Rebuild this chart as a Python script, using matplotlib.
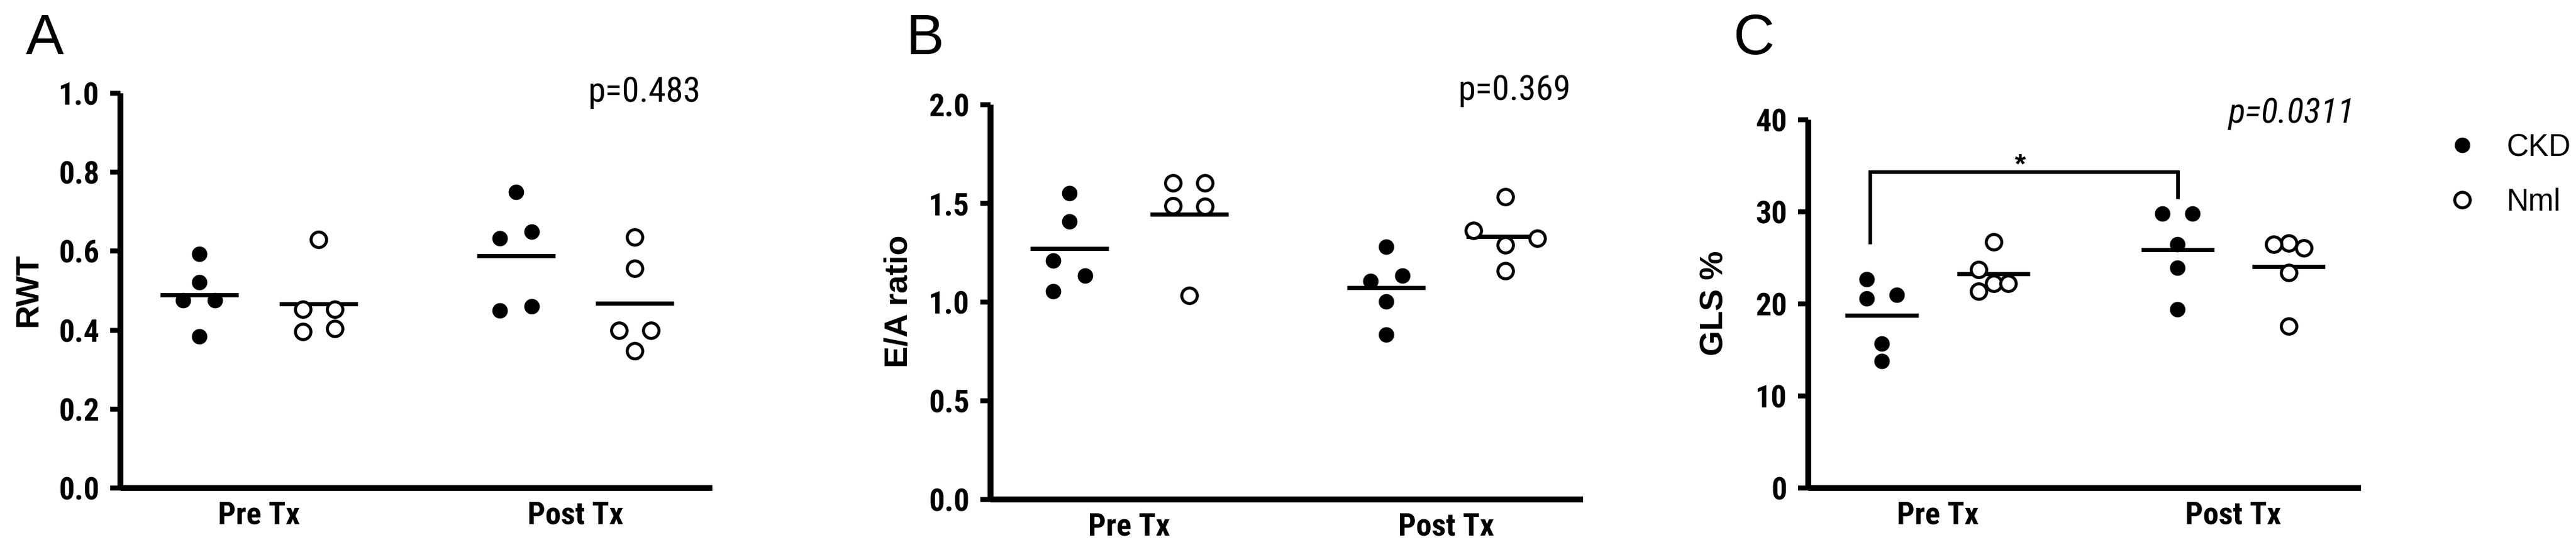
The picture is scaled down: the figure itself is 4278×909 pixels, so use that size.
import matplotlib
matplotlib.use("Agg")
import matplotlib.pyplot as plt
from matplotlib import font_manager
from matplotlib.lines import Line2D
import numpy as np

# values
groups = ["Pre Tx", "Post Tx"]

rwt_pre_ckd = [0.593, 0.521, 0.475, 0.475, 0.384]
rwt_pre_nml = [0.630, 0.452, 0.452, 0.397, 0.404]
rwt_post_ckd = [0.750, 0.650, 0.633, 0.461, 0.450]
rwt_post_nml = [0.636, 0.556, 0.400, 0.400, 0.348]

ea_pre_ckd = [1.551, 1.410, 1.211, 1.135, 1.055]
ea_pre_nml = [1.605, 1.605, 1.489, 1.486, 1.034]
ea_post_ckd = [1.282, 1.135, 1.108, 1.004, 0.835]
ea_post_nml = [1.534, 1.362, 1.323, 1.291, 1.158]

gls_pre_ckd = [22.7, 21.0, 20.6, 15.7, 13.8]
gls_pre_nml = [26.7, 23.7, 22.2, 22.2, 21.4]
gls_post_ckd = [29.8, 29.8, 26.5, 23.9, 19.4]
gls_post_nml = [26.6, 26.5, 26.1, 23.4, 17.6]

p_values = ["p=0.483", "p=0.369", "p=0.0311"]
y_labels = ["RWT", "E/A ratio", "GLS %"]
panel_letters = ["A", "B", "C"]

# side-by-side slots for tied points (column scatter layout)
slots_a = [[0, 0, -1, 1, 0], [0, -1, 1, -1, 1], [0, 1, -1, 1, -1], [0, 0, -1, 1, 0]]
slots_b = [[0, 0, -1, 1, -1], [-1, 1, -1, 1, 0], [0, 1, -1, 0, 0], [0, -2, 2, 0, 0]]
slots_c = [[-1, 1, -1, 0, 0], [0, -1, 0, 1, -1], [-1, 1, 0, 0, 0], [0, -1, 1, 0, 0]]

names = {f.name for f in font_manager.fontManager.ttflist}
narrow = "Roboto Condensed" if "Roboto Condensed" in names else "Liberation Sans"
plt.rcParams["font.family"] = [narrow, "DejaVu Sans"]

FS = 37.5
LW = 7
col_x = [0.133, 0.335, 0.668, 0.869]
slot_w = 0.027
half_w = 0.066

fig = plt.figure(figsize=(42.78, 9.09), dpi=100)
rects = [
    [0.04675, 0.10781, 0.22978, 0.72167],
    [0.38453, 0.08691, 0.23001, 0.72167],
    [0.70196, 0.10781, 0.21459, 0.67327],
]

filled = dict(ls="none", marker="o", ms=17.5, mfc="black", mec="black", mew=1)
hollow = dict(ls="none", marker="o", ms=18.5, mfc="white", mec="black", mew=3.6)


def draw_panel(ax, data, slots, ylim, yticks, fmt):
    for i, (vals, sl) in enumerate(zip(data, slots)):
        xs = col_x[i] + np.array(sl) * slot_w
        style = filled if i % 2 == 0 else hollow
        ax.plot(xs, vals, clip_on=False, **style)
        m = np.mean(vals)
        ax.plot([col_x[i] - half_w, col_x[i] + half_w], [m, m], color="black", lw=5,
                solid_capstyle="butt", zorder=1)
    ax.set_xlim(0, 1)
    ax.set_ylim(*ylim)
    ax.set_yticks(yticks)
    ax.set_yticklabels([fmt.format(t) for t in yticks], fontsize=FS, fontweight="bold")
    ax.set_xticks([(col_x[0] + col_x[1]) / 2, (col_x[2] + col_x[3]) / 2])
    ax.set_xticklabels(groups, fontsize=FS, fontweight="bold")
    for s in ["top", "right"]:
        ax.spines[s].set_visible(False)
    for s in ["left", "bottom"]:
        ax.spines[s].set_linewidth(LW)
        ax.spines[s].set_capstyle("butt")
    ax.tick_params(axis="y", length=12, width=6, pad=13)
    ax.tick_params(axis="x", length=0, pad=15)


axes = [fig.add_axes(r) for r in rects]
draw_panel(axes[0], [rwt_pre_ckd, rwt_pre_nml, rwt_post_ckd, rwt_post_nml], slots_a,
           (0, 1.0), np.arange(0, 1.01, 0.2), "{:.1f}")
draw_panel(axes[1], [ea_pre_ckd, ea_pre_nml, ea_post_ckd, ea_post_nml], slots_b,
           (0, 2.0), np.arange(0, 2.01, 0.5), "{:.1f}")
draw_panel(axes[2], [gls_pre_ckd, gls_pre_nml, gls_post_ckd, gls_post_nml], slots_c,
           (0, 40), np.arange(0, 41, 10), "{:.0f}")

label_x = [-0.155, -0.155, -0.169]
for ax, lab, lx in zip(axes, y_labels, label_x):
    ax.set_ylabel(lab, fontsize=39, fontweight="bold", family=["Liberation Sans", "DejaVu Sans"])
    ax.yaxis.label.set_va("center")
    ax.yaxis.set_label_coords(lx, 0.502)

p_pos = [(0.980, 0.979), (0.979, 1.012), (0.988, 0.992)]
for ax, p, (px, py), style in zip(axes, p_values, p_pos, ["normal", "normal", "italic"]):
    ax.text(px, py, p, transform=ax.transAxes, ha="right", va="baseline",
            fontsize=42, fontstyle=style)

letter_x = [43, 1504, 2878]
for lx, letter in zip(letter_x, panel_letters):
    fig.text(lx / 4278, 1 - 90 / 909, letter, fontsize=68, family="Liberation Sans",
             ha="left", va="baseline")

# significance bracket in panel C
axc = axes[2]
axc.plot([0.112, 0.112, 0.669, 0.669], [26.5, 34.3, 34.3, 31.4], color="black", lw=4.3,
         solid_joinstyle="miter", solid_capstyle="butt", clip_on=False)
axc.text(0.383, 34.2, "*", ha="center", va="baseline", fontsize=34, fontweight="bold",
         family=["Liberation Sans", "DejaVu Sans"])

handles = [Line2D([], [], **filled), Line2D([], [], **hollow)]
fig.legend(handles, ["CKD", "Nml"], loc="upper left", bbox_to_anchor=(4064 / 4278, 1 - 221 / 909),
           frameon=False, handlelength=1.0, handletextpad=0.95,
           labelspacing=0.82, borderpad=0, borderaxespad=0,
           prop={"family": "Liberation Sans", "size": 36.5})

fig.savefig("out.png", dpi=100)
